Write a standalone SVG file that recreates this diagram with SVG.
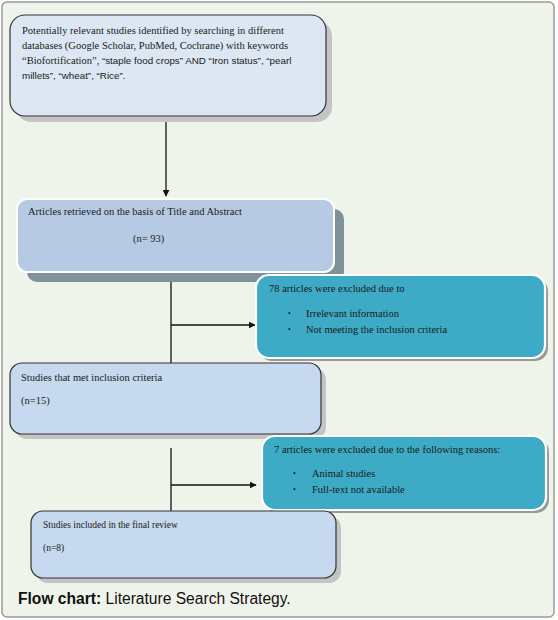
<svg xmlns="http://www.w3.org/2000/svg" width="558" height="620" viewBox="0 0 558 620">
<style>
text{font-family:"Liberation Serif","Times New Roman",serif;font-size:10.5px;fill:#1a1a1a}
.sans{font-family:"Liberation Sans",Arial,sans-serif;font-size:9.8px}
.cap{font-family:"Liberation Sans",Arial,sans-serif;font-size:15.6px;fill:#111}
.lt{fill:#c6d9ef;stroke:#333;stroke-width:1.2}
.teal{fill:#3eabc6;stroke:#fff;stroke-width:2.2}
.sh{fill:#c4c4c4}
.ln{stroke:#111;stroke-width:1.3;fill:none}
.bul{font-size:8px}
</style>
<defs>
<marker id="ah" viewBox="0 0 10 10" refX="9" refY="5" markerWidth="7" markerHeight="7" orient="auto" markerUnits="userSpaceOnUse">
<path d="M0,0 L10,5 L0,10 z" fill="#111"/>
</marker>
</defs>
<rect x="2" y="2" width="552" height="615" rx="5" fill="#eff4ea" stroke="#999" stroke-width="1.5"/>
<g id="connectors">
<line class="ln" x1="166" y1="117" x2="166" y2="196" marker-end="url(#ah)"/>
<line class="ln" x1="171" y1="282" x2="171" y2="363"/>
<line class="ln" x1="171" y1="325" x2="255" y2="325" marker-end="url(#ah)"/>
<line class="ln" x1="171" y1="448" x2="171" y2="511"/>
<line class="ln" x1="171" y1="485" x2="256" y2="485" marker-end="url(#ah)"/>
</g>
<g id="n1">
<rect class="sh" x="16" y="21" width="316" height="101" rx="15"/>
<rect x="10" y="15" width="316" height="101" rx="15" fill="#dce7f3" stroke="#333" stroke-width="1.2"/>
<text x="22" y="34">Potentially relevant studies identified by searching in different</text>
<text x="22" y="49">databases (Google Scholar, PubMed, Cochrane) with keywords</text>
<text x="22" y="64">“Biofortification”, <tspan class="sans">“staple food crops” AND  “Iron status”, “pearl</tspan></text>
<text x="22" y="79" class="sans">millets”, “wheat”, “Rice”.</text>
</g>
<g id="n2">
<rect x="27" y="209" width="317" height="73" rx="10" fill="#7f9298"/>
<rect x="17" y="199" width="317" height="73" rx="10" fill="#b7cae4" stroke="#fff" stroke-width="2"/>
<text x="28" y="215">Articles retrieved on the basis of Title and Abstract</text>
<text x="133" y="242">(n= 93)</text>
</g>
<g id="n3">
<rect x="259" y="278" width="289" height="83" rx="13" fill="#999"/>
<rect class="teal" x="256" y="275" width="289" height="83" rx="13"/>
<text x="269" y="292">78 articles were excluded due to</text>
<text class="bul" x="288" y="316">•</text>
<text x="306" y="317">Irrelevant information</text>
<text class="bul" x="288" y="332">•</text>
<text x="306" y="333">Not meeting the inclusion criteria</text>
</g>
<g id="n4">
<rect class="sh" x="15" y="368" width="311" height="71" rx="12"/>
<rect class="lt" x="10" y="363" width="311" height="71" rx="12"/>
<text x="21" y="381">Studies that met inclusion criteria</text>
<text x="21" y="404">(n=15)</text>
</g>
<g id="n5">
<rect x="265" y="439" width="284" height="74" rx="13" fill="#999"/>
<rect class="teal" x="262" y="436" width="284" height="74" rx="13"/>
<text x="274" y="453">7 articles were excluded due to the following reasons:</text>
<text class="bul" x="293" y="476">•</text>
<text x="312" y="477">Animal studies</text>
<text class="bul" x="293" y="492">•</text>
<text x="312" y="493">Full-text not available</text>
</g>
<g id="n6">
<rect class="sh" x="36" y="516" width="305" height="67" rx="12"/>
<rect class="lt" x="31" y="511" width="305" height="67" rx="12"/>
<text x="43" y="528" style="font-size:9.5px">Studies included in the final review</text>
<text x="43" y="551" style="font-size:9.5px">(n=8)</text>
</g>
<text class="cap" x="18" y="604"><tspan font-weight="bold">Flow chart:</tspan> Literature Search Strategy.</text>
</svg>
